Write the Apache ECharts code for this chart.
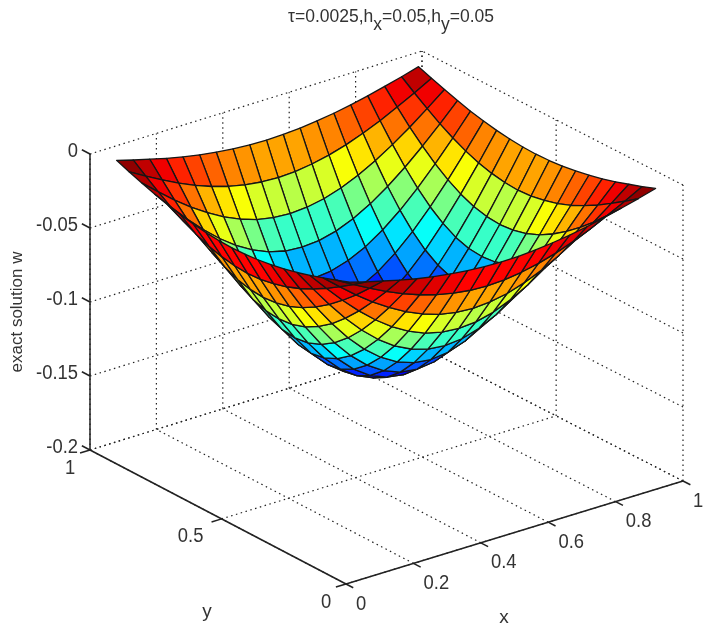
<!DOCTYPE html>
<html>
<head>
<meta charset="utf-8">
<style>
  html, body { margin: 0; padding: 0; background: #fff; }
  #main { width: 706px; height: 626px; }
</style>
<script src="https://cdn.jsdelivr.net/npm/echarts@6/dist/echarts.min.js"></script>
</head>
<body>
<div id="main"></div>
<script>
// mesh nodes, both directions
var xNodes = [0.05, 0.1, 0.15, 0.2, 0.25, 0.3, 0.35, 0.4, 0.45, 0.5, 0.55, 0.6, 0.65, 0.7, 0.75, 0.8, 0.85, 0.9, 0.95];
var yNodes = [0.05, 0.1, 0.15, 0.2, 0.25, 0.3, 0.35, 0.4, 0.45, 0.5, 0.55, 0.6, 0.65, 0.7, 0.75, 0.8, 0.85, 0.9, 0.95];

// w, one row per y node
var wRows = [
  [-0.0033,-0.0066,-0.0096,-0.0125,-0.0151,-0.0172,-0.0189,-0.0202,-0.0210,-0.0213,-0.0210,-0.0202,-0.0189,-0.0172,-0.0151,-0.0125,-0.0096,-0.0066,-0.0033],
  [-0.0066,-0.0130,-0.0190,-0.0247,-0.0297,-0.0340,-0.0374,-0.0399,-0.0415,-0.0421,-0.0415,-0.0399,-0.0374,-0.0340,-0.0297,-0.0247,-0.0190,-0.0130,-0.0066],
  [-0.0096,-0.0190,-0.0281,-0.0363,-0.0436,-0.0499,-0.0550,-0.0588,-0.0610,-0.0618,-0.0610,-0.0588,-0.0550,-0.0499,-0.0436,-0.0363,-0.0281,-0.0190,-0.0096],
  [-0.0125,-0.0247,-0.0363,-0.0470,-0.0565,-0.0647,-0.0712,-0.0761,-0.0790,-0.0799,-0.0790,-0.0761,-0.0712,-0.0647,-0.0565,-0.0470,-0.0363,-0.0247,-0.0125],
  [-0.0151,-0.0297,-0.0436,-0.0565,-0.0680,-0.0778,-0.0857,-0.0914,-0.0950,-0.0962,-0.0950,-0.0914,-0.0857,-0.0778,-0.0680,-0.0565,-0.0436,-0.0297,-0.0151],
  [-0.0172,-0.0340,-0.0499,-0.0647,-0.0778,-0.0890,-0.0980,-0.1046,-0.1087,-0.1101,-0.1087,-0.1046,-0.0980,-0.0890,-0.0778,-0.0647,-0.0499,-0.0340,-0.0172],
  [-0.0189,-0.0374,-0.0550,-0.0712,-0.0857,-0.0980,-0.1079,-0.1152,-0.1197,-0.1211,-0.1197,-0.1152,-0.1079,-0.0980,-0.0857,-0.0712,-0.0550,-0.0374,-0.0189],
  [-0.0202,-0.0399,-0.0588,-0.0761,-0.0914,-0.1046,-0.1152,-0.1230,-0.1277,-0.1294,-0.1277,-0.1230,-0.1152,-0.1046,-0.0914,-0.0761,-0.0588,-0.0399,-0.0202],
  [-0.0210,-0.0415,-0.0610,-0.0790,-0.0950,-0.1087,-0.1197,-0.1277,-0.1327,-0.1343,-0.1327,-0.1277,-0.1197,-0.1087,-0.0950,-0.0790,-0.0610,-0.0415,-0.0210],
  [-0.0213,-0.0421,-0.0618,-0.0799,-0.0962,-0.1101,-0.1211,-0.1294,-0.1343,-0.1360,-0.1343,-0.1294,-0.1211,-0.1101,-0.0962,-0.0799,-0.0618,-0.0421,-0.0213],
  [-0.0210,-0.0415,-0.0610,-0.0790,-0.0950,-0.1087,-0.1197,-0.1277,-0.1327,-0.1343,-0.1327,-0.1277,-0.1197,-0.1087,-0.0950,-0.0790,-0.0610,-0.0415,-0.0210],
  [-0.0202,-0.0399,-0.0588,-0.0761,-0.0914,-0.1046,-0.1152,-0.1230,-0.1277,-0.1294,-0.1277,-0.1230,-0.1152,-0.1046,-0.0914,-0.0761,-0.0588,-0.0399,-0.0202],
  [-0.0189,-0.0374,-0.0550,-0.0712,-0.0857,-0.0980,-0.1079,-0.1152,-0.1197,-0.1211,-0.1197,-0.1152,-0.1079,-0.0980,-0.0857,-0.0712,-0.0550,-0.0374,-0.0189],
  [-0.0172,-0.0340,-0.0499,-0.0647,-0.0778,-0.0890,-0.0980,-0.1046,-0.1087,-0.1101,-0.1087,-0.1046,-0.0980,-0.0890,-0.0778,-0.0647,-0.0499,-0.0340,-0.0172],
  [-0.0151,-0.0297,-0.0436,-0.0565,-0.0680,-0.0778,-0.0857,-0.0914,-0.0950,-0.0962,-0.0950,-0.0914,-0.0857,-0.0778,-0.0680,-0.0565,-0.0436,-0.0297,-0.0151],
  [-0.0125,-0.0247,-0.0363,-0.0470,-0.0565,-0.0647,-0.0712,-0.0761,-0.0790,-0.0799,-0.0790,-0.0761,-0.0712,-0.0647,-0.0565,-0.0470,-0.0363,-0.0247,-0.0125],
  [-0.0096,-0.0190,-0.0281,-0.0363,-0.0436,-0.0499,-0.0550,-0.0588,-0.0610,-0.0618,-0.0610,-0.0588,-0.0550,-0.0499,-0.0436,-0.0363,-0.0281,-0.0190,-0.0096],
  [-0.0066,-0.0130,-0.0190,-0.0247,-0.0297,-0.0340,-0.0374,-0.0399,-0.0415,-0.0421,-0.0415,-0.0399,-0.0374,-0.0340,-0.0297,-0.0247,-0.0190,-0.0130,-0.0066],
  [-0.0033,-0.0066,-0.0096,-0.0125,-0.0151,-0.0172,-0.0189,-0.0202,-0.0210,-0.0213,-0.0210,-0.0202,-0.0189,-0.0172,-0.0151,-0.0125,-0.0096,-0.0066,-0.0033]
];

// axis ticks
var xTicks = [0, 0.2, 0.4, 0.6, 0.8, 1];
var yTicks = [0, 0.5, 1];
var zTicks = [0, -0.05, -0.1, -0.15, -0.2];
var zTickLabels = ['0', '-0.05', '-0.1', '-0.15', '-0.2'];
var zMin = -0.2, zMax = 0;

// view of the 3d box on the plane of the page
function view(x, y, z) {
  return [
    346 + 337 * x - 256 * y - 5 * x * y,
    584 - 103 * x - 134 * y - (z - zMin) * 1480
  ];
}

// box lines: y spacing is a bit uneven in the scan, lines stay straight
function project(x, y, z) {
  return view(x, y - 0.056 * y * (1 - y), z);
}

// the mesh sits slightly wider than the nodes and leans with depth in the scan
function projectMesh(x, y, z) {
  var p = view(0.5 + (x - 0.5) * 1.01, 0.5 + (y - 0.5) * 1.01, z);
  p[0] += 60 * z;
  return p;
}

// matlab jet, 64 levels
function jet(t) {
  t = Math.floor(Math.min(0.9999, Math.max(0, t)) * 64) / 63;
  function ch(v) { return Math.round(255 * Math.max(0, Math.min(1, v))); }
  var r = 1.5 - Math.abs(4 * t - 3);
  var g = 1.5 - Math.abs(4 * t - 2);
  var b = 1.5 - Math.abs(4 * t - 1);
  return 'rgb(' + ch(r) + ',' + ch(g) + ',' + ch(b) + ')';
}

var wMin = Infinity, wMax = -Infinity;
wRows.forEach(function (row) {
  row.forEach(function (v) {
    wMin = Math.min(wMin, v);
    wMax = Math.max(wMax, v);
  });
});

// far cells first so that the near ones paint over them
var cells = [];
for (var j = yNodes.length - 2; j >= 0; j--) {
  for (var i = xNodes.length - 2; i >= 0; i--) {
    cells.push([i, j]);
  }
}

// dotted grid on floor and back walls: [x0,y0,z0,x1,y1,z1]
var gridLines = [];
xTicks.forEach(function (x) {
  gridLines.push([x, 0, zMin, x, 1, zMin]);
  gridLines.push([x, 1, zMin, x, 1, zMax]);
});
yTicks.forEach(function (y) {
  gridLines.push([0, y, zMin, 1, y, zMin]);
  gridLines.push([1, y, zMin, 1, y, zMax]);
});
zTicks.forEach(function (z) {
  gridLines.push([0, 1, z, 1, 1, z]);
  gridLines.push([1, 0, z, 1, 1, z]);
});

// solid axes and their ticks
var axisLines = [
  [0, 0, zMin, 1, 0, zMin],
  [0, 0, zMin, 0, 1, zMin],
  [0, 1, zMin, 0, 1, zMax]
];
xTicks.forEach(function (x) { axisLines.push([x, 0, zMin, x, -0.03, zMin]); });
yTicks.forEach(function (y) { axisLines.push([0, y, zMin, -0.03, y, zMin]); });
zTicks.forEach(function (z) { axisLines.push([0, 1, z, 0, 1.03, z]); });

// labels: [text, x, y, z, dx, dy, align]
var labels = [];
xTicks.forEach(function (x) {
  labels.push([String(x), x, 0, zMin, (x === 0 || x === 1) ? 15 : 23, 20, 'center']);
});
yTicks.forEach(function (y) {
  labels.push([String(y), 0, y, zMin, y === 0.5 ? -31 : -20, 18, 'center']);
});
zTicks.forEach(function (z, k) {
  labels.push([zTickLabels[k], 0, 1, z, -12, -3, 'right']);
});

var textColor = '#333';
var fontName = '"Liberation Sans", Arial, sans-serif';

function renderSegment(list, style) {
  return function (params, api) {
    var s = list[params.dataIndex];
    var a = api.coord(project(s[0], s[1], s[2]));
    var b = api.coord(project(s[3], s[4], s[5]));
    return {
      type: 'line',
      shape: { x1: a[0], y1: a[1], x2: b[0], y2: b[1] },
      style: style
    };
  };
}

function renderCell(params, api) {
  var c = cells[params.dataIndex];
  var i = c[0], j = c[1];
  var corners = [[i, j], [i + 1, j], [i + 1, j + 1], [i, j + 1]];
  var pts = corners.map(function (k) {
    return api.coord(projectMesh(xNodes[k[0]], yNodes[k[1]], wRows[k[1]][k[0]]));
  });
  return {
    type: 'polygon',
    shape: { points: pts },
    style: {
      // flat colour comes from the lowest index corner
      fill: jet((wRows[j][i] - wMin) / (wMax - wMin)),
      stroke: '#161616',
      lineWidth: 1.3,
      lineJoin: 'round'
    }
  };
}

function renderLabel(params, api) {
  var l = labels[params.dataIndex];
  var p = api.coord(project(l[1], l[2], l[3]));
  return {
    type: 'text',
    x: p[0] + l[4],
    y: p[1] + l[5],
    scaleX: 0.92,
    style: {
      text: l[0],
      fill: textColor,
      font: '20px ' + fontName,
      align: l[6],
      verticalAlign: 'middle'
    }
  };
}

function indexData(list) {
  return list.map(function (d, k) { return [k]; });
}

var chart = echarts.init(document.getElementById('main'), null, { renderer: 'canvas' });
chart.setOption({
  animation: false,
  backgroundColor: '#fff',
  title: {
    text: '{n|τ=0.0025,h}{s|x}{n|=0.05,h}{s|y}{n|=0.05}',
    left: 386,
    top: 2,
    textAlign: 'center',
    textStyle: {
      fontWeight: 'normal',
      rich: {
        n: { fontFamily: fontName, fontSize: 17.5, fontWeight: 'normal', color: textColor, padding: [0, 0, 7, 0] },
        s: { fontFamily: fontName, fontSize: 17.5, fontWeight: 'normal', color: textColor, padding: [9, 0, 0, 0] }
      }
    }
  },
  grid: { left: 0, right: 0, top: 0, bottom: 0 },
  xAxis: { type: 'value', min: 0, max: 706, show: false },
  yAxis: { type: 'value', min: 0, max: 626, inverse: true, show: false },
  tooltip: { show: false },
  graphic: [
    {
      type: 'text', x: 17, y: 312, rotation: Math.PI / 2,
      style: { text: 'exact solution w', fill: textColor, font: '17px ' + fontName, align: 'center', verticalAlign: 'middle' }
    },
    {
      type: 'text', x: 207, y: 612,
      style: { text: 'y', fill: textColor, font: '19px ' + fontName, align: 'center', verticalAlign: 'middle' }
    },
    {
      type: 'text', x: 504, y: 618,
      style: { text: 'x', fill: textColor, font: '19px ' + fontName, align: 'center', verticalAlign: 'middle' }
    }
  ],
  series: [
    {
      type: 'custom', coordinateSystem: 'cartesian2d', silent: true, clip: false,
      data: indexData(gridLines),
      renderItem: renderSegment(gridLines, { stroke: '#222', lineWidth: 1.2, lineDash: [1.5, 3.5] })
    },
    {
      type: 'custom', coordinateSystem: 'cartesian2d', silent: true, clip: false,
      data: indexData(axisLines),
      renderItem: renderSegment(axisLines, { stroke: '#222', lineWidth: 1.5 })
    },
    {
      type: 'custom', coordinateSystem: 'cartesian2d', silent: true, clip: false,
      data: indexData(cells),
      renderItem: renderCell
    },
    {
      type: 'custom', coordinateSystem: 'cartesian2d', silent: true, clip: false,
      data: indexData(labels),
      renderItem: renderLabel
    }
  ]
});
</script>
</body>
</html>
